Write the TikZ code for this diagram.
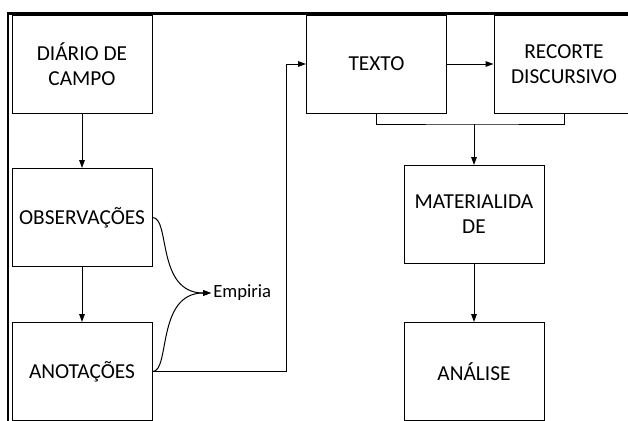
\documentclass[tikz,border=0pt]{standalone}
\usepackage{fontspec}
\setmainfont{Carlito}
\usetikzlibrary{positioning,arrows.meta,calc}
\tikzset{
    every node/.style={font=\fontsize{16}{18.8}\selectfont},
    etapa/.style={rectangle,draw=black,line width=0.75pt,minimum width=105pt,minimum height=73.5pt,inner sep=2pt,align=center},
    rotulo/.style={font=\fontsize{14}{16}\selectfont,inner sep=1.5pt,anchor=west},
    seta/.style={draw,line width=0.75pt,-{Triangle[length=6pt,width=4.2pt]}},
    liga/.style={draw,line width=0.75pt},
    moldura/.style={draw,line width=1.9pt}
}
\begin{document}
\begin{tikzpicture}[x=0.75pt,y=-0.75pt]
\clip (0,0) rectangle (628,421);
\draw[moldura] (8,421) -- (8,13.5) -- (628,13.5);
% coluna da esquerda
\node[etapa] (diario) at (82,64) {DIÁRIO DE\\CAMPO};
\node[etapa] (obs) at (82,217.5) {OBSERVAÇÕES};
\node[etapa] (anot) at (82,371.5) {ANOTAÇÕES};
\node[rotulo] (emp) at (211,293) {Empiria};
% coluna da direita
\node[etapa] (texto) at (376.5,64) {TEXTO};
\node[etapa] (recorte) at (564,64) {RECORTE\\DISCURSIVO};
\node[etapa] (mat) at (474,214.5) {MATERIALIDA\\DE};
\node[etapa] (analise) at (474,371.5) {ANÁLISE};
\coordinate (juncao) at ($(mat.north)+(0,-41)$);
% ligacoes
\draw[seta] (diario) -- (obs);
\draw[seta] (obs) -- (anot);
\draw[seta] (obs.east) .. controls +(18,0) and +(-55,0) .. (emp.west);
\draw[seta] (anot.east) .. controls +(18,0) and +(-55,0) .. (emp.west);
\draw[seta] (anot.east) -| ([xshift=-15pt]texto.west) -- (texto.west);
\draw[seta] (texto) -- (recorte);
\draw[liga] (texto.south) |- (juncao) -| (recorte.south);
\draw[seta] (juncao) -- (mat);
\draw[seta] (mat) -- (analise);
\end{tikzpicture}
\end{document}
